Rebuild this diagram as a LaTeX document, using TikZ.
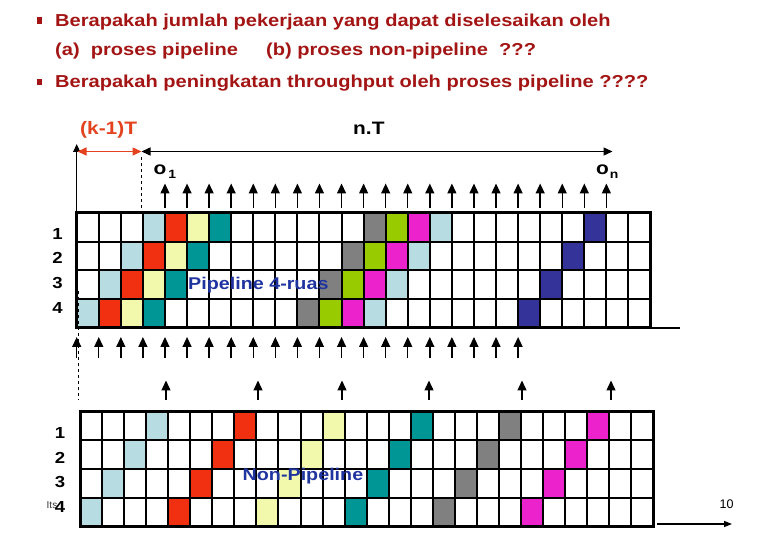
\documentclass[tikz,border=0pt]{standalone}
\usepackage{fontspec}
\setmainfont{Liberation Sans}
\newfontfamily\af[FakeStretch=1.16]{Liberation Sans}
\usetikzlibrary{arrows.meta}
\definecolor{hdred}{RGB}{163,20,20}
\definecolor{kred}{RGB}{226,66,30}
\definecolor{labblue}{RGB}{32,52,160}
\definecolor{cLB}{RGB}{183,221,226}
\definecolor{cR}{RGB}{240,48,16}
\definecolor{cY}{RGB}{242,248,172}
\definecolor{cT}{RGB}{0,150,150}
\definecolor{cG}{RGB}{128,128,128}
\definecolor{cGr}{RGB}{153,204,0}
\definecolor{cM}{RGB}{236,34,204}
\definecolor{cB}{RGB}{51,51,153}
\begin{document}
\begin{tikzpicture}[x=1pt,y=-1pt,
  head/.style={font=\af\fontsize{17.3}{20}\selectfont\bfseries, text=hdred, anchor=base west, inner sep=0pt},
  bul/.style={fill=hdred, minimum width=5pt, minimum height=6.5pt, inner sep=0pt},
  lbl/.style={font=\af\fontsize{18}{20}\selectfont\bfseries, anchor=base west, inner sep=0pt},
  rowlab/.style={font=\af\fontsize{16}{18}\selectfont\bfseries, anchor=base, inner sep=0pt},
  inlab/.style={font=\af\fontsize{17}{20}\selectfont\bfseries, text=labblue, anchor=base west, inner sep=0pt},
  olab/.style={font=\af\fontsize{18}{18}\selectfont\bfseries, anchor=base west, inner sep=0pt},
  gl/.style={line width=2pt},
  gb/.style={line width=3pt},
  upar/.style={-{Triangle[length=10pt,width=9pt]}, line width=1.4pt},
  harr/.style={{Triangle[length=9pt,width=8pt]}-{Triangle[length=9pt,width=8pt]}, line width=1.4pt},
  ]
\useasboundingbox (0,0) rectangle (780,540);

% ---- headings
\node[bul] (b1) at (39,20.5) {};
\node[head] (h1) at (55,26.5) {Berapakah jumlah pekerjaan yang dapat diselesaikan oleh};
\node[head] (h2a) at (55,56) {(a)\ \ proses pipeline};
\node[head] (h2b) at (266,56) {(b) proses non-pipeline\ \ ???};
\node[bul] (b2) at (39,82) {};
\node[head] (h3) at (55,88) {Berapakah peningkatan throughput oleh proses pipeline ????};

% ---- time labels
\node[lbl, text=kred] (kT) at (80,135) {(k-1)T};
\node[lbl] (nT) at (353,135) {n.T};

% ---- top axis
\coordinate (ax0) at (76.7,213);
\coordinate (ax1) at (76.7,144);
\coordinate (r0) at (77.5,151.5);
\coordinate (r1) at (141.5,151.5);
\coordinate (n1) at (612.5,151.5);
\coordinate (d0) at (141.5,157);
\coordinate (d1) at (141.5,213);
\draw[-{Triangle[length=8pt,width=7pt]}, line width=1.4pt] (ax0) -- (ax1);
\draw[harr, draw=kred, fill=kred] (r0) -- (r1);
\draw[harr] (r1) -- (n1);
\draw[dashed, line width=0.8pt] (d0) -- (d1);

\node[olab] (o1) at (153.5,174.5) {o\hspace{2pt}{\fontsize{12}{12}\selectfont\raisebox{-4.5pt}{1}}};
\node[olab] (on) at (596,175) {o\hspace{1pt}{\fontsize{12}{12}\selectfont\raisebox{-4pt}{n}}};

% ---- grid 1 (pipeline)
\foreach \s/\col in {3/cLB,4/cR,5/cY,6/cT,13/cG,14/cGr,15/cM,16/cLB,23/cB}
  \foreach \r in {0,...,3}
    \fill[\col] ({76.7+(\s-\r)*22.07},{213+\r*28.75}) rectangle ++(22.07,28.75);
\foreach \i in {1,...,25}
  \draw[gl] ({76.7+\i*22.07},213) -- ++(0,115);
\foreach \j in {1,2,3}
  \draw[gl] (76.7,{213+\j*28.75}) -- ++(573.8,0);
\draw[gb] (76.7,213) rectangle (650.5,328);
\coordinate (e0) at (651,328);
\coordinate (e1) at (680,328);
\draw[line width=1.4pt] (e0) -- (e1);

\node[rowlab] (p1) at (57.5,240) {1};
\node[rowlab] (p2) at (57.5,264) {2};
\node[rowlab] (p3) at (57.5,289) {3};
\node[rowlab] (p4) at (57.5,314) {4};
\node[inlab] (pl) at (188,290) {Pipeline 4-ruas};

% ---- arrows above grid 1
\foreach \k in {4,...,24}{
  \coordinate (ua\k) at ({76.7+\k*22.07},208);
  \coordinate (ub\k) at ({76.7+\k*22.07},183.5);
  \draw[upar] (ua\k) -- (ub\k);
}
% ---- arrows below grid 1
\foreach \k in {0,...,20}{
  \coordinate (la\k) at ({76.7+\k*22.07},358);
  \coordinate (lb\k) at ({76.7+\k*22.07},337);
  \draw[upar] (la\k) -- (lb\k);
}
\coordinate (dd0) at (78.5,291);
\coordinate (dd1) at (78.5,400);
\draw[dashed, line width=0.8pt] (dd0) -- (dd1);

% ---- arrows above grid 2
\foreach \x [count=\n] in {166,258,342,429,522,611}{
  \coordinate (ma\n) at (\x,400);
  \coordinate (mb\n) at (\x,380.5);
  \draw[upar] (ma\n) -- (mb\n);
}

% ---- grid 2 (non-pipeline)
\foreach \s/\col in {3/cLB,7/cR,11/cY,15/cT,19/cG,23/cM}
  \foreach \r in {0,...,3}
    \fill[\col] ({80+(\s-\r)*22.05},{411+\r*28.9}) rectangle ++(22.05,28.9);
\foreach \i in {1,...,25}
  \draw[gl] ({80+\i*22.05},411) -- ++(0,115.6);
\foreach \j in {1,2,3}
  \draw[gl] (80,{411+\j*28.9}) -- ++(573.3,0);
\draw[gb] (80,411) rectangle (653.3,526.6);

\node[rowlab] (q1) at (60,438) {1};
\node[rowlab] (q2) at (60,463) {2};
\node[rowlab] (q3) at (60,487.5) {3};
\node[rowlab] (q4) at (60,512.5) {4};
\node[inlab] (np) at (242.5,480) {Non-Pipeline};

\node[font=\fontsize{10}{10}\selectfont, text=black!80, anchor=base west, inner sep=0pt] (its) at (46.5,508) {Its};
\node[font=\fontsize{12.5}{12.5}\selectfont, anchor=base, inner sep=0pt] (ten) at (726.5,508.5) {10};

\coordinate (t0) at (657,524);
\coordinate (t1) at (732,524);
\draw[-{Triangle[length=8pt,width=6pt]}, line width=1.4pt] (t0) -- (t1);
\end{tikzpicture}
\end{document}
